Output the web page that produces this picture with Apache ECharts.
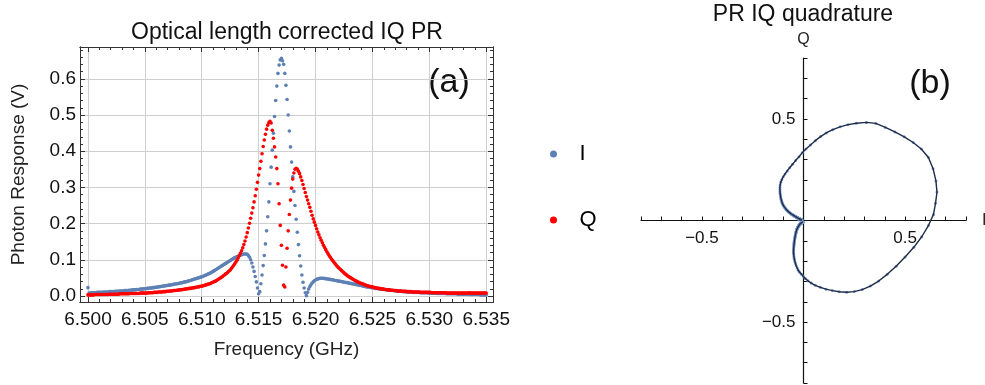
<!DOCTYPE html>
<html>
<head>
<meta charset="UTF-8">
<title>Optical length corrected IQ PR</title>
<script src="https://cdn.jsdelivr.net/npm/echarts@6/dist/echarts.min.js"></script>
<style>html,body{margin:0;padding:0;background:#fff;}</style>
</head>
<body>
<div id="chart" style="width:985px;height:385px;"></div>
<script>
// frequency sweep: 6.500 GHz .. 6.535 GHz, one point per 0.1 MHz
var sweepStart = 6.5;
var sweepStep = 0.0001;

// in-phase response (signed, V), 10 points per row
var iSigned = [
  -0.023,-0.008,-0.008,-0.009,-0.009,-0.009,-0.009,-0.009,-0.010,-0.010,
  -0.010,-0.010,-0.010,-0.010,-0.011,-0.011,-0.011,-0.011,-0.011,-0.012,
  -0.012,-0.012,-0.012,-0.012,-0.013,-0.013,-0.013,-0.013,-0.014,-0.014,
  -0.014,-0.014,-0.015,-0.015,-0.015,-0.015,-0.016,-0.016,-0.016,-0.017,
  -0.017,-0.017,-0.017,-0.018,-0.018,-0.018,-0.019,-0.019,-0.019,-0.020,
  -0.020,-0.020,-0.021,-0.021,-0.022,-0.022,-0.022,-0.023,-0.023,-0.024,
  -0.024,-0.025,-0.025,-0.026,-0.026,-0.027,-0.027,-0.028,-0.028,-0.029,
  -0.029,-0.030,-0.030,-0.031,-0.031,-0.032,-0.033,-0.033,-0.034,-0.034,
  -0.035,-0.036,-0.036,-0.037,-0.038,-0.039,-0.039,-0.040,-0.041,-0.042,
  -0.043,-0.044,-0.045,-0.046,-0.047,-0.048,-0.049,-0.050,-0.051,-0.052,
  -0.053,-0.054,-0.056,-0.057,-0.058,-0.060,-0.061,-0.063,-0.064,-0.066,
  -0.068,-0.070,-0.072,-0.074,-0.076,-0.078,-0.080,-0.082,-0.084,-0.086,
  -0.088,-0.090,-0.092,-0.094,-0.096,-0.098,-0.100,-0.102,-0.104,-0.106,
  -0.107,-0.109,-0.110,-0.112,-0.113,-0.114,-0.115,-0.116,-0.116,-0.116,
  -0.115,-0.112,-0.107,-0.100,-0.091,-0.080,-0.068,-0.054,-0.039,-0.022,
  -0.006,0.012,0.034,0.058,0.084,0.112,0.144,0.180,0.219,0.260,
  0.310,0.356,0.403,0.450,0.496,0.540,0.580,0.615,0.638,0.652,
  0.657,0.650,0.640,0.615,0.582,0.543,0.500,0.456,0.412,0.370,
  0.329,0.289,0.250,0.212,0.176,0.142,0.111,0.083,0.058,0.038,
  0.022,0.009,-0.001,-0.010,-0.019,-0.026,-0.031,-0.036,-0.039,-0.042,
  -0.044,-0.046,-0.047,-0.048,-0.049,-0.049,-0.049,-0.049,-0.048,-0.048,
  -0.047,-0.047,-0.046,-0.046,-0.045,-0.045,-0.044,-0.043,-0.043,-0.042,
  -0.041,-0.041,-0.040,-0.040,-0.039,-0.038,-0.038,-0.037,-0.037,-0.036,
  -0.035,-0.035,-0.034,-0.033,-0.033,-0.032,-0.031,-0.031,-0.030,-0.029,
  -0.029,-0.028,-0.027,-0.027,-0.026,-0.025,-0.025,-0.024,-0.024,-0.023,
  -0.023,-0.022,-0.022,-0.021,-0.021,-0.020,-0.020,-0.019,-0.019,-0.018,
  -0.018,-0.018,-0.017,-0.017,-0.016,-0.016,-0.016,-0.015,-0.015,-0.015,
  -0.014,-0.014,-0.014,-0.013,-0.013,-0.013,-0.013,-0.012,-0.012,-0.012,
  -0.012,-0.011,-0.011,-0.011,-0.011,-0.011,-0.010,-0.010,-0.010,-0.010,
  -0.010,-0.010,-0.009,-0.009,-0.009,-0.009,-0.009,-0.009,-0.009,-0.008,
  -0.008,-0.008,-0.008,-0.008,-0.008,-0.008,-0.007,-0.007,-0.007,-0.007,
  -0.007,-0.007,-0.007,-0.007,-0.007,-0.006,-0.006,-0.006,-0.006,-0.006,
  -0.006,-0.006,-0.006,-0.006,-0.006,-0.005,-0.005,-0.005,-0.005,-0.005,
  -0.005,-0.005,-0.005,-0.005,-0.005,-0.004,-0.004,-0.004,-0.004,-0.004,
  -0.004,-0.004,-0.004,-0.004,-0.004,-0.003,-0.003,-0.003,-0.003,-0.003,
  -0.003
];

// quadrature response (signed, V)
var qSigned = [
  0.003,0.003,0.003,0.003,0.003,0.003,0.004,0.004,0.004,0.004,
  0.004,0.004,0.004,0.004,0.004,0.004,0.004,0.004,0.004,0.005,
  0.005,0.005,0.005,0.005,0.005,0.005,0.005,0.005,0.006,0.006,
  0.006,0.006,0.006,0.006,0.006,0.006,0.006,0.007,0.007,0.007,
  0.007,0.007,0.007,0.007,0.007,0.007,0.008,0.008,0.008,0.008,
  0.008,0.008,0.008,0.009,0.009,0.009,0.009,0.009,0.010,0.010,
  0.010,0.010,0.011,0.011,0.011,0.011,0.012,0.012,0.012,0.013,
  0.013,0.013,0.014,0.014,0.014,0.015,0.015,0.015,0.016,0.016,
  0.017,0.017,0.017,0.018,0.018,0.019,0.019,0.020,0.020,0.021,
  0.021,0.022,0.022,0.023,0.023,0.024,0.025,0.025,0.026,0.027,
  0.027,0.028,0.029,0.030,0.031,0.032,0.033,0.034,0.035,0.037,
  0.038,0.040,0.041,0.043,0.045,0.047,0.049,0.051,0.053,0.056,
  0.058,0.061,0.063,0.066,0.069,0.072,0.076,0.080,0.084,0.089,
  0.094,0.099,0.105,0.111,0.118,0.125,0.133,0.142,0.152,0.163,
  0.175,0.188,0.201,0.215,0.229,0.244,0.260,0.277,0.295,0.314,
  0.334,0.352,0.372,0.393,0.413,0.431,0.447,0.461,0.472,0.479,
  0.483,0.478,0.458,0.436,0.412,0.384,0.352,0.310,0.255,0.195,
  0.140,0.085,0.030,-0.025,-0.080,-0.132,-0.180,-0.225,-0.265,-0.298,
  -0.323,-0.340,-0.350,-0.353,-0.351,-0.345,-0.338,-0.329,-0.319,-0.308,
  -0.297,-0.286,-0.275,-0.265,-0.255,-0.245,-0.234,-0.223,-0.213,-0.204,
  -0.195,-0.186,-0.177,-0.169,-0.161,-0.154,-0.147,-0.140,-0.134,-0.128,
  -0.122,-0.117,-0.112,-0.107,-0.102,-0.098,-0.094,-0.090,-0.086,-0.082,
  -0.079,-0.076,-0.073,-0.070,-0.067,-0.064,-0.061,-0.059,-0.056,-0.054,
  -0.052,-0.050,-0.048,-0.046,-0.044,-0.042,-0.041,-0.039,-0.038,-0.036,
  -0.035,-0.034,-0.033,-0.031,-0.030,-0.029,-0.028,-0.027,-0.026,-0.026,
  -0.025,-0.024,-0.023,-0.022,-0.022,-0.021,-0.021,-0.020,-0.020,-0.019,
  -0.019,-0.018,-0.018,-0.017,-0.017,-0.017,-0.016,-0.016,-0.016,-0.015,
  -0.015,-0.015,-0.014,-0.014,-0.014,-0.014,-0.013,-0.013,-0.013,-0.013,
  -0.012,-0.012,-0.012,-0.012,-0.012,-0.011,-0.011,-0.011,-0.011,-0.011,
  -0.011,-0.011,-0.010,-0.010,-0.010,-0.010,-0.010,-0.010,-0.010,-0.010,
  -0.010,-0.010,-0.009,-0.009,-0.009,-0.009,-0.009,-0.009,-0.009,-0.009,
  -0.009,-0.009,-0.009,-0.009,-0.009,-0.008,-0.008,-0.008,-0.008,-0.008,
  -0.008,-0.008,-0.008,-0.008,-0.008,-0.008,-0.008,-0.008,-0.008,-0.008,
  -0.008,-0.008,-0.008,-0.008,-0.008,-0.009,-0.008,-0.008,-0.008,-0.008,
  -0.008,-0.008,-0.008,-0.008,-0.008,-0.008,-0.008,-0.008,-0.008,-0.008,
  -0.008
];

// tick values
var freqTicks = [6.500, 6.505, 6.510, 6.515, 6.520, 6.525, 6.530, 6.535];
var prTicks = [0.0, 0.1, 0.2, 0.3, 0.4, 0.5, 0.6];
var quadLabels = [-0.5, 0.5];

var freqMinor = [], prMinor = [], quadTicks = [];
for (var m = 0; m <= 35; m++) { if (m % 5) freqMinor.push(+(6.5 + m * 0.001).toFixed(3)); }
for (var m = 0; m <= 34; m++) { if (m % 5) prMinor.push(+(m * 0.02).toFixed(2)); }
for (var m = -8; m <= 8; m++) { if (m) quadTicks.push(m / 10); }

var ptsI = [], ptsQ = [], loop = [];
for (var k = 0; k < iSigned.length; k++) {
  var f = +(sweepStart + k * sweepStep).toFixed(4);
  ptsI.push([f, Math.abs(iSigned[k])]);
  ptsQ.push([f, Math.abs(qSigned[k])]);
  loop.push([iSigned[k], qSigned[k]]);
}

var FONT = 'Liberation Sans, Arial, sans-serif';
var frameColor = '#333';

// frame side of panel (a): major or minor ticks, optional labels
function frameAxis(pos, min, max, ticks, len, extra) {
  var ax = {
    type: 'value', gridIndex: 0, position: pos, min: min, max: max,
    axisLine: {show: true, onZero: false, lineStyle: {color: frameColor, width: 1}},
    axisTick: {show: true, inside: true, length: len, customValues: ticks,
               lineStyle: {color: frameColor, width: 1}},
    axisLabel: {show: false},
    splitLine: {show: false}
  };
  for (var key in (extra || {})) ax[key] = extra[key];
  return ax;
}

function quadFmt(v) { return (v < 0 ? '\u2212' : '') + Math.abs(v).toFixed(1); }

var xMin = 6.4993, xMax = 6.5356, yMin = -0.0166, yMax = 0.688;
var quadSize = 325;

var chart = echarts.init(document.getElementById('chart'));
chart.setOption({
  animation: false,
  backgroundColor: '#fff',
  textStyle: {fontFamily: FONT},
  grid: [
    {left: 80, top: 47, width: 413, height: 255, outerBoundsMode: 'none'},
    {left: 641, top: 58, width: quadSize, height: quadSize, outerBoundsMode: 'none'}
  ],
  legend: {
    data: ['I', 'Q'],
    orient: 'vertical',
    left: 545, top: 138,
    icon: 'circle',
    itemWidth: 42, itemHeight: 7,
    itemGap: 44,
    textStyle: {fontSize: 22, color: '#000', fontFamily: FONT}
  },
  xAxis: [
    frameAxis('bottom', xMin, xMax, freqTicks, 5, {
      name: 'Frequency (GHz)', nameLocation: 'middle', nameGap: 38,
      nameTextStyle: {fontSize: 19, color: '#222'},
      axisLabel: {show: true, customValues: freqTicks, margin: 8, fontSize: 19, color: '#111',
                  formatter: function (v) { return v.toFixed(3); }},
      splitLine: {show: true, lineStyle: {color: '#cfcfcf', width: 1}}
    }),
    frameAxis('bottom', xMin, xMax, freqMinor, 3),
    frameAxis('top', xMin, xMax, freqTicks, 5),
    frameAxis('top', xMin, xMax, freqMinor, 3),
    {
      type: 'value', gridIndex: 1, min: -0.8, max: 0.8,
      position: 'bottom', offset: -quadSize / 2,
      name: 'I', nameLocation: 'end', nameGap: 16,
      nameTextStyle: {fontSize: 16, color: '#222'},
      axisLine: {show: true, onZero: false, lineStyle: {color: '#111', width: 1.2}},
      axisTick: {show: true, inside: true, length: 4, customValues: quadTicks,
                 lineStyle: {color: '#111'}},
      axisLabel: {show: true, customValues: quadLabels, margin: 9, fontSize: 17, color: '#111',
                  formatter: quadFmt},
      splitLine: {show: false}
    }
  ],
  yAxis: [
    frameAxis('left', yMin, yMax, prTicks, 5, {
      name: 'Photon Response (V)', nameLocation: 'middle', nameGap: 52,
      nameTextStyle: {fontSize: 19, color: '#222'},
      axisLabel: {show: true, customValues: prTicks, margin: 4, fontSize: 19, color: '#111',
                  formatter: function (v) { return v.toFixed(1); }},
      splitLine: {show: true, lineStyle: {color: '#cfcfcf', width: 1}}
    }),
    frameAxis('left', yMin, yMax, prMinor, 3),
    frameAxis('right', yMin, yMax, prTicks, 5),
    frameAxis('right', yMin, yMax, prMinor, 3),
    {
      type: 'value', gridIndex: 1, min: -0.8, max: 0.8,
      position: 'left', offset: -quadSize / 2,
      name: 'Q', nameLocation: 'end', nameGap: 10,
      nameTextStyle: {fontSize: 16, color: '#222'},
      axisLine: {show: true, onZero: false, lineStyle: {color: '#111', width: 1.2}},
      axisTick: {show: true, inside: true, length: 4, customValues: quadTicks,
                 lineStyle: {color: '#111'}},
      axisLabel: {show: true, customValues: quadLabels, margin: 8, fontSize: 17, color: '#111',
                  formatter: quadFmt},
      splitLine: {show: false}
    }
  ],
  graphic: [
    {type: 'text', x: 287, y: 33, style: {text: 'Optical length corrected IQ PR', font: '23px ' + FONT,
      fill: '#111', align: 'center', verticalAlign: 'middle'}},
    {type: 'text', x: 803, y: 15, style: {text: 'PR IQ quadrature', font: '23px ' + FONT,
      fill: '#111', align: 'center', verticalAlign: 'middle'}},
    {type: 'text', x: 449, y: 83, style: {text: '(a)', font: '34px ' + FONT,
      fill: '#111', align: 'center', verticalAlign: 'middle'}},
    {type: 'text', x: 930, y: 84, style: {text: '(b)', font: '34px ' + FONT,
      fill: '#111', align: 'center', verticalAlign: 'middle'}}
  ],
  series: [
    {
      name: 'I', type: 'scatter', xAxisIndex: 0, yAxisIndex: 0,
      symbolSize: 3.6, itemStyle: {color: '#5E81B5', opacity: 1},
      data: ptsI
    },
    {
      name: 'Q', type: 'scatter', xAxisIndex: 0, yAxisIndex: 0,
      symbolSize: 3.6, itemStyle: {color: '#FF0000', opacity: 1},
      data: ptsQ
    },
    {
      name: 'IQ points', type: 'scatter', xAxisIndex: 4, yAxisIndex: 4, z: 2,
      symbolSize: 3, itemStyle: {color: '#7b98c8', opacity: 1},
      data: loop
    },
    {
      name: 'IQ', type: 'line', xAxisIndex: 4, yAxisIndex: 4, z: 3,
      showSymbol: false,
      lineStyle: {color: '#1f2c48', width: 1.4},
      data: loop
    }
  ]
});
</script>
</body>
</html>
